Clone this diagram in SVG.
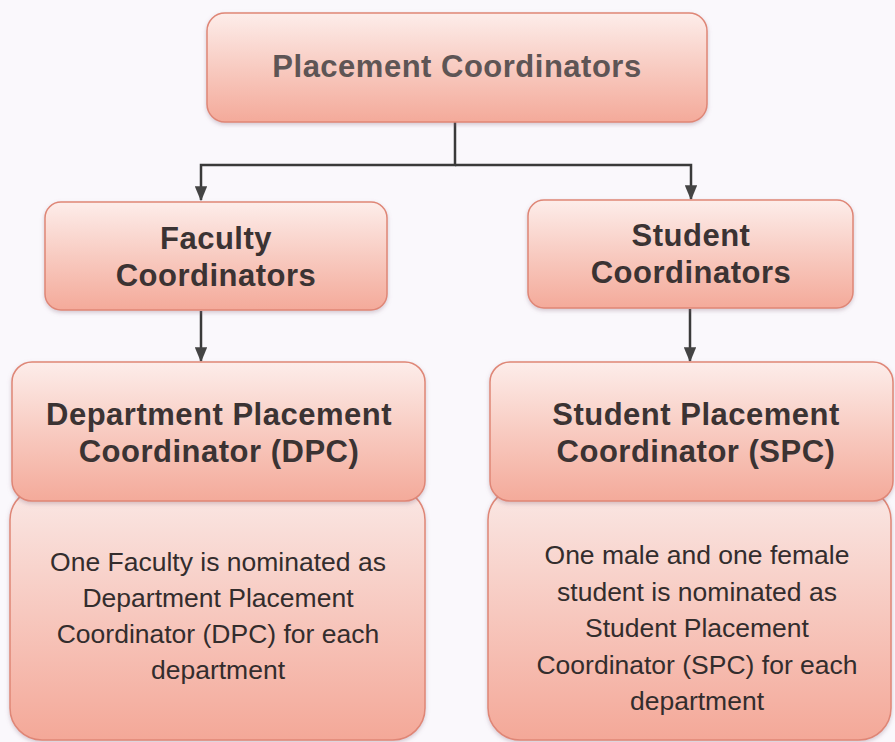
<svg xmlns="http://www.w3.org/2000/svg" width="895" height="742" viewBox="0 0 895 742">
<style>
.box{fill:url(#g);stroke:#df8676;stroke-width:1.5;filter:url(#sh)}
.body{fill:url(#gb);stroke:#df8676;stroke-width:1.5;filter:url(#sh)}
.h{font-family:"Liberation Sans",Arial,sans-serif;font-weight:bold;font-size:31px;letter-spacing:0.5px;fill:#3b3333;text-anchor:middle}
.t{font-family:"Liberation Sans",Arial,sans-serif;font-size:26.5px;fill:#332d2d;text-anchor:middle}
.c{fill:none;stroke:#3a3a3a;stroke-width:2.5}
</style>
<defs>
<linearGradient id="g" x1="0" y1="0" x2="0" y2="1">
<stop offset="0" stop-color="#fdedea"/>
<stop offset="0.5" stop-color="#f8cbc1"/>
<stop offset="1" stop-color="#f4aa9a"/>
</linearGradient>
<linearGradient id="gb" x1="0" y1="0" x2="0" y2="1">
<stop offset="0" stop-color="#fae8e5"/>
<stop offset="1" stop-color="#f4a898"/>
</linearGradient>
<filter id="sh" x="-5%" y="-5%" width="110%" height="115%">
<feDropShadow dx="0" dy="2" stdDeviation="2" flood-color="#8a6a80" flood-opacity="0.35"/>
</filter>
<marker id="ah" viewBox="0 0 12 10" refX="11" refY="5" markerWidth="6" markerHeight="5" orient="auto" markerUnits="strokeWidth">
<path d="M0,0 L12,5 L0,10 z" fill="#444"/>
</marker>
</defs>
<rect width="895" height="742" fill="#faf8fc"/>
<g id="connectors">
<path class="c" d="M455,122 V165 H201 V200" marker-end="url(#ah)"/>
<path class="c" d="M455,165 H691 V199" marker-end="url(#ah)"/>
<path class="c" d="M201,311 V361" marker-end="url(#ah)"/>
<path class="c" d="M690,309 V361" marker-end="url(#ah)"/>
</g>
<g id="placement-coordinators">
<rect class="box" x="207" y="13" width="500" height="109" rx="18"/>
<text class="h" x="457" y="77" style="fill:#5e5555">Placement Coordinators</text>
</g>
<g id="faculty-coordinators">
<rect class="box" x="45" y="202" width="342" height="108" rx="16"/>
<text class="h" x="216" y="249">Faculty</text>
<text class="h" x="216" y="286">Coordinators</text>
</g>
<g id="student-coordinators">
<rect class="box" x="528" y="200" width="325" height="108" rx="16"/>
<text class="h" x="691" y="246">Student</text>
<text class="h" x="691" y="283">Coordinators</text>
</g>
<g id="dpc-body">
<rect class="body" x="10" y="488" width="415" height="252" rx="32"/>
<text class="t" x="218" y="571">One Faculty is nominated as</text>
<text class="t" x="218" y="607">Department Placement</text>
<text class="t" x="218" y="643">Coordinator (DPC) for each</text>
<text class="t" x="218" y="679">department</text>
</g>
<g id="dpc">
<rect class="box" x="12" y="362" width="413" height="139" rx="20"/>
<text class="h" x="219" y="425">Department Placement</text>
<text class="h" x="219" y="462">Coordinator (DPC)</text>
</g>
<g id="spc-body">
<rect class="body" x="488" y="488" width="403" height="252" rx="32"/>
<text class="t" x="697" y="564">One male and one female</text>
<text class="t" x="697" y="601">student is nominated as</text>
<text class="t" x="697" y="637">Student Placement</text>
<text class="t" x="697" y="674">Coordinator (SPC) for each</text>
<text class="t" x="697" y="710">department</text>
</g>
<g id="spc">
<rect class="box" x="490" y="362" width="403" height="139" rx="20"/>
<text class="h" x="696" y="425">Student Placement</text>
<text class="h" x="696" y="462">Coordinator (SPC)</text>
</g>
</svg>
